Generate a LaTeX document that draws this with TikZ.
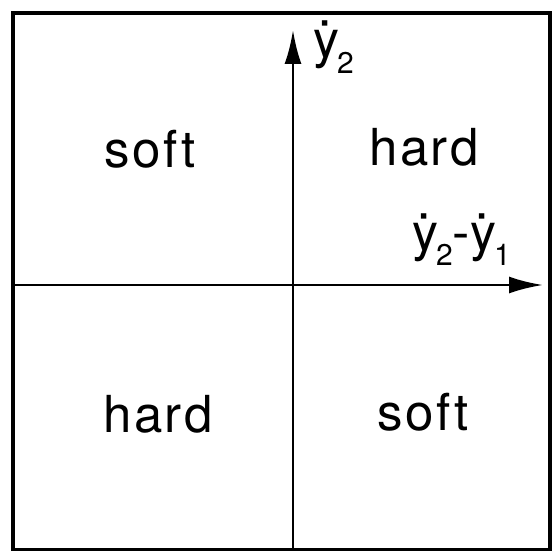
\documentclass[tikz,border=0pt]{standalone}
\usepackage{fontspec}
\usetikzlibrary{arrows.meta}
\newfontfamily\regionfont[LetterSpace=5]{TeX Gyre Heros}
\newfontfamily\axisfont{TeX Gyre Heros}
\newcommand{\ydot}[1]{\.{y}\kern-0.04em\raisebox{-0.3em}{\fontsize{30}{30}\selectfont #1}}
\tikzset{
  regionlabel/.style={font=\regionfont\fontsize{51}{56}\selectfont, inner sep=0pt, anchor=base},
  axislabel/.style={font=\axisfont\fontsize{52}{56}\selectfont, inner sep=0pt, anchor=base west},
  axisline/.style={line width=2.8pt, -{Latex[length=34pt,width=17pt]}},
  frameline/.style={line width=3.4pt}
}
\begin{document}
\begin{tikzpicture}[x=1pt,y=-1pt]
  \useasboundingbox (0,0) rectangle (551,551);
  \draw[frameline] (13,13) rectangle (550,550);
  \coordinate (hstart) at (13,285);
  \coordinate (hend) at (543,285);
  \coordinate (vstart) at (293,550);
  \coordinate (vend) at (293,30);
  \draw[axisline] (hstart) -- (hend);
  \draw[axisline] (vstart) -- (vend);
  \node[axislabel] (ylab) at (313,58) {\ydot{2}};
  \node[axislabel] (xlab) at (412,250) {\ydot{2}-\ydot{1}};
  \node[regionlabel] (softtl) at (150,167) {soft};
  \node[regionlabel] (hardtr) at (424,165) {hard};
  \node[regionlabel] (hardbl) at (158,432) {hard};
  \node[regionlabel] (softbr) at (423,430) {soft};
\end{tikzpicture}
\end{document}
